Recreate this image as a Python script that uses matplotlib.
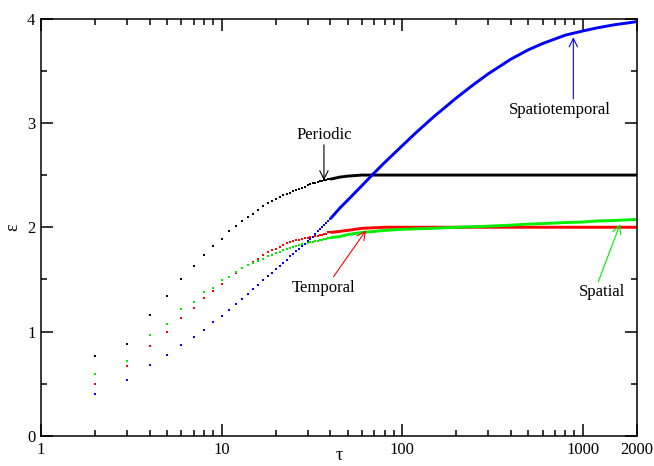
import matplotlib
matplotlib.use("Agg")
import matplotlib.pyplot as plt
import numpy as np

# integer tau values, shown as separate dots
tau_dots = list(range(1, 41))
periodic_dots = [0.0, 0.77, 0.88, 1.16, 1.34, 1.50, 1.63, 1.73, 1.82, 1.89,
                 1.96, 2.01, 2.06, 2.10, 2.13, 2.17, 2.20, 2.23, 2.25, 2.27,
                 2.29, 2.31, 2.32, 2.33, 2.35, 2.36, 2.37, 2.38, 2.39, 2.40,
                 2.41, 2.42, 2.42, 2.43, 2.44, 2.44, 2.45, 2.45, 2.46, 2.46]
temporal_dots = [0.0, 0.50, 0.67, 0.86, 1.00, 1.13, 1.23, 1.32, 1.39, 1.46,
                 1.52, 1.56, 1.61, 1.64, 1.67, 1.70, 1.73, 1.76, 1.78, 1.79,
                 1.81, 1.83, 1.85, 1.86, 1.87, 1.88, 1.88, 1.89, 1.90, 1.90,
                 1.91, 1.91, 1.92, 1.92, 1.93, 1.93, 1.94, 1.94, 1.95, 1.95]
spatial_dots = [0.0, 0.59, 0.72, 0.97, 1.07, 1.22, 1.28, 1.38, 1.42, 1.49,
                1.52, 1.57, 1.61, 1.64, 1.66, 1.68, 1.70, 1.72, 1.73, 1.75,
                1.76, 1.78, 1.79, 1.80, 1.81, 1.82, 1.83, 1.84, 1.84, 1.85,
                1.86, 1.86, 1.87, 1.87, 1.88, 1.88, 1.89, 1.89, 1.90, 1.90]
spatiotemporal_dots = [0.0, 0.40, 0.54, 0.68, 0.78, 0.87, 0.95, 1.02, 1.09, 1.15,
                       1.21, 1.26, 1.31, 1.36, 1.41, 1.45, 1.49, 1.53, 1.56, 1.60,
                       1.63, 1.66, 1.69, 1.72, 1.74, 1.77, 1.79, 1.82, 1.84, 1.87,
                       1.89, 1.91, 1.94, 1.96, 1.98, 2.00, 2.02, 2.04, 2.06, 2.08]

# dense part (points merge into a line)
tau_tail = [40, 45, 50, 60, 70, 80, 100, 120, 150, 200, 250, 300, 400, 500,
            600, 800, 1000, 1200, 1500, 2000]
periodic_tail = [2.46, 2.48, 2.49, 2.50, 2.50, 2.50, 2.50, 2.50, 2.50, 2.50,
                 2.50, 2.50, 2.50, 2.50, 2.50, 2.50, 2.50, 2.50, 2.50, 2.50]
temporal_tail = [1.95, 1.96, 1.97, 1.99, 1.995, 2.00, 2.00, 2.00, 2.00, 2.00,
                 2.00, 2.00, 2.00, 2.00, 2.00, 2.00, 2.00, 2.00, 2.00, 2.00]
spatial_tail = [1.90, 1.91, 1.93, 1.95, 1.96, 1.97, 1.98, 1.985, 1.99, 2.00,
                2.005, 2.01, 2.02, 2.03, 2.035, 2.045, 2.05, 2.06, 2.065, 2.075]
spatiotemporal_tail = [2.08, 2.18, 2.26, 2.40, 2.52, 2.62, 2.78, 2.91, 3.06, 3.24,
                       3.37, 3.47, 3.61, 3.70, 3.76, 3.84, 3.88, 3.91, 3.94, 3.97]

xtick_vals = [1, 10, 100, 1000, 2000]
xtick_labels = ["1", "10", "100", "1000", "2000"]

series = [
    ("black", periodic_dots, periodic_tail),
    ("#ff0000", temporal_dots, temporal_tail),
    ("#00ee00", spatial_dots, spatial_tail),
    ("#0000ff", spatiotemporal_dots, spatiotemporal_tail),
]

plt.rcParams["font.family"] = ["Liberation Serif", "DejaVu Serif"]

fig = plt.figure(figsize=(6.54, 4.66), dpi=100)
ax = fig.add_axes([0.0627, 0.0644, 0.9113, 0.8959])

for color, dots, tail in series:
    ax.plot(tau_dots, dots, ls="none", marker="s", ms=1.9, mew=0,
            color=color, clip_on=False)
    ax.plot(tau_tail, tail, color=color, lw=2.1, solid_capstyle="butt")

ax.set_xscale("log")
ax.set_xlim(1, 2000)
ax.set_ylim(0, 4)
ax.set_xticks(xtick_vals)
ax.set_xticklabels(xtick_labels)
ax.set_yticks([0, 1, 2, 3, 4])
ax.set_yticks([0.5, 1.5, 2.5, 3.5], minor=True)
ax.xaxis.set_minor_locator(matplotlib.ticker.LogLocator(base=10, subs=np.arange(2, 10)))
ax.xaxis.set_minor_formatter(matplotlib.ticker.NullFormatter())

ax.tick_params(which="both", direction="in", top=True, right=True,
               width=1.1, labelsize=12, pad=4)
ax.tick_params(which="major", length=8.5)
ax.tick_params(which="minor", length=4.5)
for sp in ax.spines.values():
    sp.set_linewidth(1.1)

ax.set_xlabel("τ", fontsize=13, labelpad=-7.5)
ax.set_ylabel("ε", fontsize=13, labelpad=4)

head = "->,head_length=0.6,head_width=0.3"
arrow_kw = dict(shrinkA=0, shrinkB=0, lw=0.8)
ax.text(36.9, 2.88, "Periodic", ha="center", va="center", fontsize=12)
ax.annotate("", xy=(36.9, 2.45), xytext=(36.9, 2.79),
            arrowprops=dict(arrowstyle=head, color="black", **arrow_kw))
ax.text(747, 3.12, "Spatiotemporal", ha="center", va="center", fontsize=12)
ax.annotate("", xy=(888, 3.82), xytext=(888, 3.23),
            arrowprops=dict(arrowstyle=head, color="#0000ff", **arrow_kw))
ax.text(36.5, 1.415, "Temporal", ha="center", va="center", fontsize=12)
ax.annotate("", xy=(63.1, 1.97), xytext=(41.7, 1.526),
            arrowprops=dict(arrowstyle=head, color="#ff0000", **arrow_kw))
ax.text(1277, 1.38, "Spatial", ha="center", va="center", fontsize=12)
ax.annotate("", xy=(1613, 2.03), xytext=(1220, 1.478),
            arrowprops=dict(arrowstyle=head, color="#00ee00", **arrow_kw))

fig.savefig("out.png", dpi=100)
